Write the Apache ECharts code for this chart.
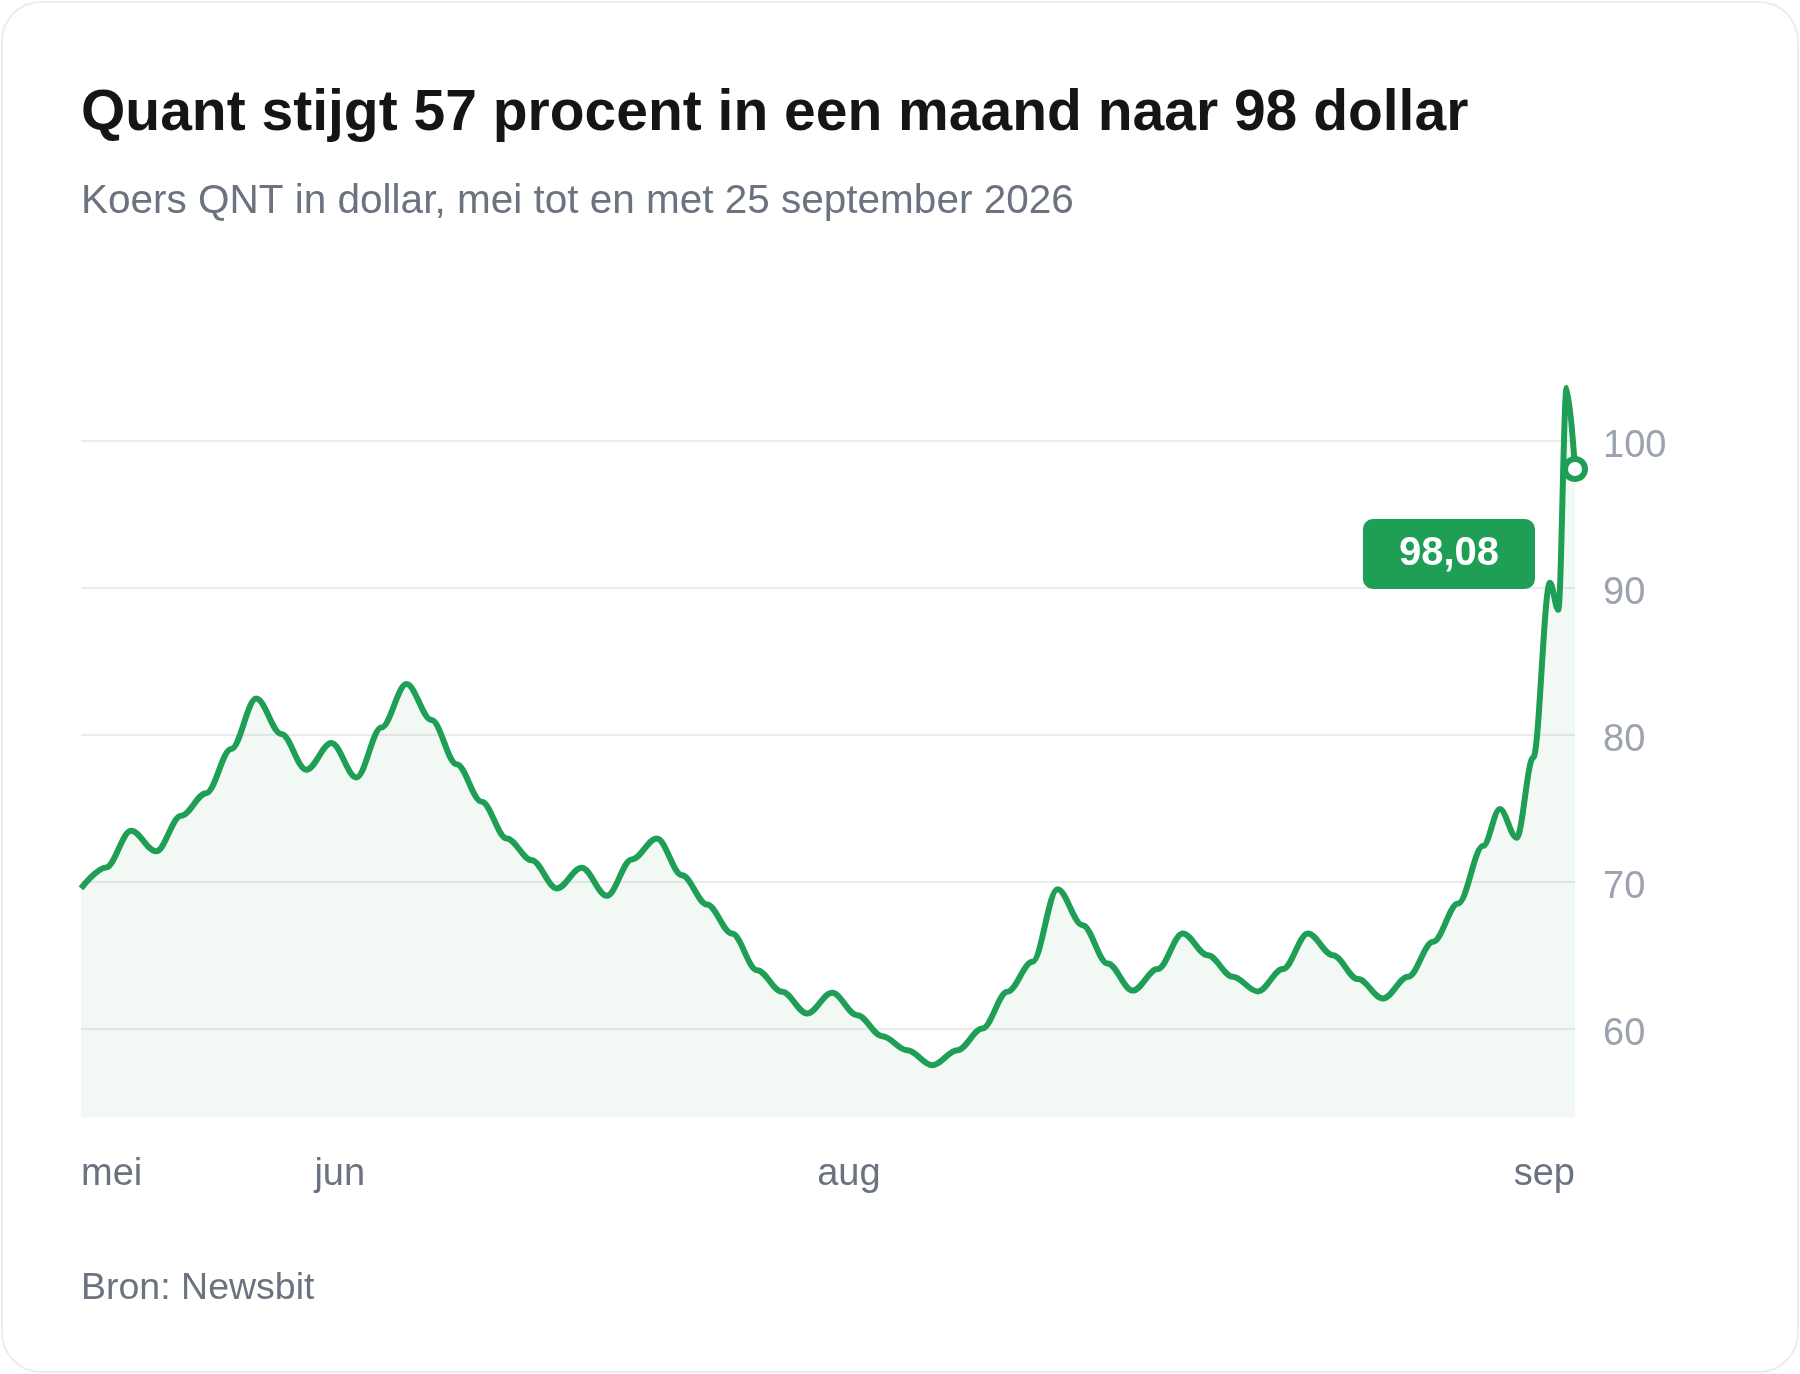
<!DOCTYPE html>
<html>
<head>
<meta charset="utf-8">
<title>Quant koers</title>
<script src="https://cdn.jsdelivr.net/npm/echarts@6/dist/echarts.min.js"></script>
<style>
  html, body { margin: 0; padding: 0; background: #ffffff; }
  #chart { position: absolute; left: 0; top: 0; width: 1800px; height: 1374px; }
  #card {
    position: absolute; left: 1px; top: 1px; width: 1798px; height: 1372px;
    box-sizing: border-box; border: 2px solid #ececec; border-radius: 40px;
    pointer-events: none;
  }
</style>
</head>
<body>
<div id="chart"></div>
<div id="card"></div>
<script>
  /*** data ***/
  // dagen sinds begin van de reeks
  var days = [0, 3, 6, 9, 12, 15, 18, 21, 24, 27, 30, 33, 36, 39, 42, 45, 48, 51, 54, 57,
    60, 63, 66, 69, 72, 75, 78, 81, 84, 87, 90, 93, 96, 99, 102, 105, 108, 111, 114, 117,
    120, 123, 126, 129, 132, 135, 138, 141, 144, 147, 150, 153, 156, 159, 162, 165, 168,
    170, 172, 174, 176, 177, 178, 179];
  // koers QNT in dollar
  var prices = [69.55, 70.98, 73.47, 72.07, 74.49, 76.03, 79.03, 82.47, 80.05, 77.62,
    79.44, 77.10, 80.50, 83.45, 81.00, 78.00, 75.45, 72.95, 71.47, 69.55,
    70.95, 69.05, 71.52, 72.95, 70.45, 68.46, 66.48, 63.99, 62.52, 61.04,
    62.45, 60.93, 59.50, 58.54, 57.52, 58.54, 60.02, 62.52, 64.56, 69.50,
    67.05, 64.44, 62.60, 64.06, 66.48, 65.00, 63.54, 62.54, 64.06, 66.48,
    65.00, 63.38, 62.06, 63.54, 65.92, 68.52, 72.45, 74.95, 73.00, 78.46,
    90.35, 88.50, 103.60, 98.08];
  // maandlabels op de x-as
  var monthTicks = [0, 31, 92, 179];
  var monthLabels = ['mei', 'jun', 'aug', 'sep'];
  // labels op de y-as
  var priceTicks = [60, 70, 80, 90, 100];

  var green = '#1f9e55';
  var font = "'Liberation Sans', Arial, sans-serif";

  var seriesData = [];
  for (var i = 0; i < days.length; i++) {
    seriesData.push([days[i], prices[i]]);
  }
  // laatste punt: open rondje + label
  var last = seriesData.length - 1;
  seriesData[last] = {
    value: seriesData[last],
    symbol: 'circle',
    symbolSize: 20,
    itemStyle: { color: '#ffffff', borderColor: green, borderWidth: 6 },
    label: {
      show: true,
      position: 'left',
      distance: 0,
      offset: [-27, 85],
      formatter: function (p) {
        return p.value[1].toFixed(2).replace('.', ',');
      },
      backgroundColor: green,
      color: '#ffffff',
      fontFamily: font,
      fontSize: 40,
      fontWeight: 'bold',
      lineHeight: 40,
      padding: [15, 36],
      borderRadius: 10
    }
  };

  var myChart = echarts.init(document.getElementById('chart'));

  var option = {
    backgroundColor: 'transparent',
    animation: false,
    title: [{
      text: 'Quant stijgt 57 procent in een maand naar 98 dollar',
      left: 81,
      top: 86,
      padding: 0,
      textStyle: { fontFamily: font, fontSize: 57, fontWeight: 'bold', color: '#151515' }
    }, {
      text: 'Koers QNT in dollar, mei tot en met 25 september 2026',
      left: 81,
      top: 181,
      padding: 0,
      textStyle: { fontFamily: font, fontSize: 40.5, fontWeight: 'normal', color: '#6b7280' }
    }, {
      text: 'Bron: Newsbit',
      left: 81,
      top: 1270,
      padding: 0,
      textStyle: { fontFamily: font, fontSize: 37.5, fontWeight: 'normal', color: '#6b7280' }
    }],
    grid: {
      left: 81,
      right: 225,
      top: 367.3,
      bottom: 257
    },
    xAxis: {
      type: 'value',
      min: 0,
      max: 179,
      axisLine: { show: false },
      axisTick: { show: false },
      splitLine: { show: false },
      axisLabel: {
        customValues: monthTicks,
        alignMinLabel: 'left',
        alignMaxLabel: 'right',
        margin: 39,
        fontFamily: font,
        fontSize: 38,
        color: '#6b7280',
        formatter: function (v) {
          var idx = monthTicks.indexOf(v);
          return idx >= 0 ? monthLabels[idx] : '';
        }
      }
    },
    yAxis: {
      type: 'value',
      position: 'right',
      min: 54,
      max: 105,
      axisLine: { show: false },
      axisTick: { show: false, customValues: priceTicks },
      axisLabel: {
        customValues: priceTicks,
        margin: 28,
        formatter: function (v) {
          return '{t|' + v + '}';
        },
        rich: {
          t: {
            fontFamily: font,
            fontSize: 38,
            color: '#9ca3af',
            padding: [11, 0, 0, 0]
          }
        }
      },
      splitLine: { show: true, lineStyle: { color: '#ebebeb', width: 2 } }
    },
    series: [{
      name: 'QNT',
      type: 'line',
      data: seriesData,
      smooth: 0.35,
      smoothMonotone: 'x',
      symbol: 'none',
      showSymbol: true,
      clip: false,
      z: 3,
      lineStyle: { color: green, width: 6 },
      itemStyle: { color: green },
      areaStyle: { color: 'rgba(31,158,85,0.085)' }
    }]
  };
  myChart.setOption(option);
</script>
</body>
</html>
